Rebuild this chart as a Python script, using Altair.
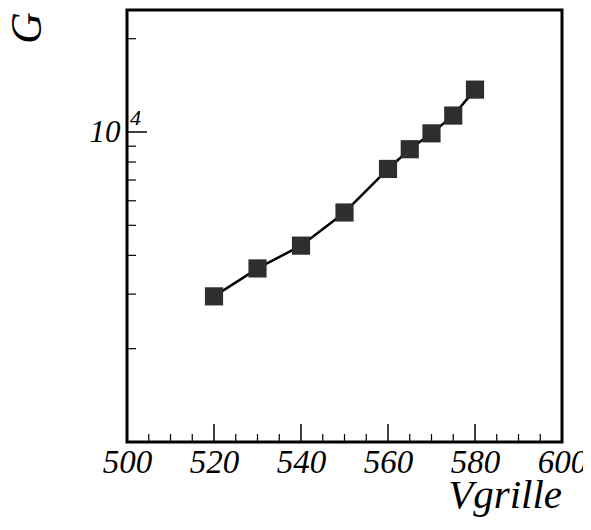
import altair as alt
import pandas as pd

# data
vgrille = [520, 530, 540, 550, 560, 565, 570, 575, 580]
gain = [2950, 3630, 4300, 5500, 7600, 8800, 9900, 11300, 13700]

x_major = [520, 540, 560, 580]
x_minor = [505, 510, 515, 525, 530, 535, 545, 550, 555, 565, 570, 575, 585, 590, 595]
y_major = [10000]
y_minor = [2000, 3000, 4000, 5000, 6000, 7000, 8000, 9000, 20000]
x_labels = [500, 520, 540, 560, 580, 600]

W, H = 435, 432
FONT = "Liberation Serif"

pts = pd.DataFrame({"Vgrille": vgrille, "G": gain})

xs = alt.Scale(domain=[500, 600], nice=False, zero=False)
ys = alt.Scale(type="log", domain=[1000, 24750], nice=False)

x_axis = alt.Axis(values=x_labels, title=None, ticks=False, domain=False, grid=False,
                  labelFont=FONT, labelFontStyle="italic", labelFontSize=33,
                  labelColor="black", labelPadding=4, labelFlush=False)
y_axis = alt.Axis(values=[10000], labelExpr="'10'", title=None, ticks=False, domain=False,
                  grid=False, labelFont=FONT, labelFontStyle="italic", labelFontSize=31,
                  labelColor="black", labelPadding=7, labelBaseline="middle")

line = alt.Chart(pts).mark_line(color="black", strokeWidth=2.5).encode(
    x=alt.X("Vgrille:Q", scale=xs, axis=x_axis),
    y=alt.Y("G:Q", scale=ys, axis=y_axis),
)

squares = alt.Chart(pts).mark_square(size=330, color="#2e2e2e", opacity=1, filled=True).encode(
    x=alt.X("Vgrille:Q", scale=xs),
    y=alt.Y("G:Q", scale=ys),
)

xmaj = alt.Chart(pd.DataFrame({"v": x_major})).mark_rule(color="black", strokeWidth=1.5).encode(
    x=alt.X("v:Q", scale=xs), y=alt.value(H), y2=alt.value(H - 18))
xmin = alt.Chart(pd.DataFrame({"v": x_minor})).mark_rule(color="black", strokeWidth=1.2).encode(
    x=alt.X("v:Q", scale=xs), y=alt.value(H), y2=alt.value(H - 8))
ymaj = alt.Chart(pd.DataFrame({"v": y_major})).mark_rule(color="black", strokeWidth=1.5).encode(
    y=alt.Y("v:Q", scale=ys), x=alt.value(0), x2=alt.value(20))
ymin = alt.Chart(pd.DataFrame({"v": y_minor})).mark_rule(color="black", strokeWidth=1.2).encode(
    y=alt.Y("v:Q", scale=ys), x=alt.value(0), x2=alt.value(9))

sup = alt.Chart(pd.DataFrame({"v": y_major, "t": ["4"]})).mark_text(
    font=FONT, fontStyle="italic", fontSize=22, align="left", baseline="bottom", color="black",
    dx=3, dy=-2
).encode(y=alt.Y("v:Q", scale=ys), x=alt.value(0), text="t:N")

xtitle = alt.Chart(pd.DataFrame({"t": ["Vgrille"]})).mark_text(
    font=FONT, fontStyle="italic", fontSize=41, align="right", baseline="alphabetic", color="black"
).encode(x=alt.value(W), y=alt.value(H + 66), text="t:N")

ytitle = alt.Chart(pd.DataFrame({"t": ["G"]})).mark_text(
    font=FONT, fontStyle="italic", fontSize=44, align="center", baseline="middle", color="black",
    angle=270
).encode(x=alt.value(-99), y=alt.value(18), text="t:N")

chart = alt.layer(line, squares, xmaj, xmin, ymaj, ymin, sup, xtitle, ytitle).properties(
    width=W, height=H,
    background="white",
    autosize=alt.AutoSizeParams(type="none"),
    padding={"left": 119, "top": 2, "right": 21, "bottom": 76},
).configure_view(stroke="black", strokeWidth=3)

chart.save("out.html", embed_options={"renderer": "svg", "actions": False})
